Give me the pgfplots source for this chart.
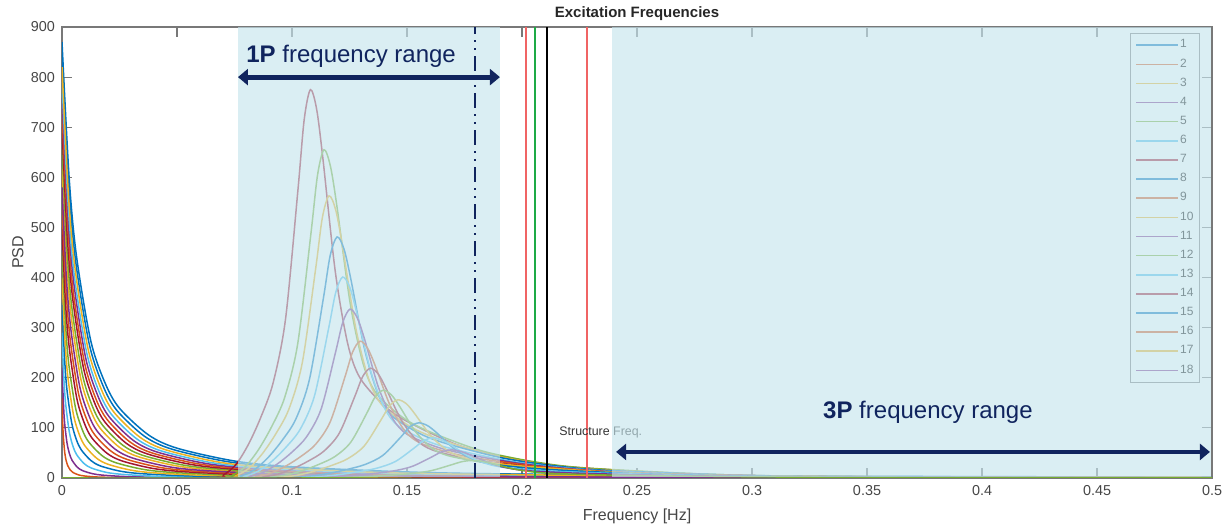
\documentclass[border=0pt]{standalone}
\usepackage{fontspec}
\setmainfont{Liberation Sans}
\usepackage{pgfplots}
\pgfplotsset{compat=1.18}
\usetikzlibrary{arrows.meta}

% MATLAB default line colours
\definecolor{c1}{RGB}{0,114,189}
\definecolor{c2}{RGB}{217,83,25}
\definecolor{c3}{RGB}{237,177,32}
\definecolor{c4}{RGB}{126,47,142}
\definecolor{c5}{RGB}{119,172,48}
\definecolor{c6}{RGB}{77,190,238}
\definecolor{c7}{RGB}{162,20,47}
\definecolor{bandcol}{RGB}{198,229,237}
\definecolor{navy}{RGB}{16,36,94}
\definecolor{axgray}{RGB}{120,120,120}
\definecolor{lblgray}{RGB}{70,70,70}
\definecolor{vred}{RGB}{240,100,100}
\definecolor{vgreen}{RGB}{30,170,70}

\begin{document}
\begin{tikzpicture}
\begin{axis}[
    name=ax,
    set layers,
    scale only axis,
    width=575pt, height=225.5pt,
    xmin=0, xmax=0.5, ymin=0, ymax=900,
    xtick={0,0.05,0.1,0.15,0.2,0.25,0.3,0.35,0.4,0.45,0.5},
    xticklabels={0,0.05,0.1,0.15,0.2,0.25,0.3,0.35,0.4,0.45,0.5},
    ytick={0,100,200,300,400,500,600,700,800,900},
    tick align=inside, tick pos=both,
    major tick length=5pt,
    axis line style={axgray, line width=0.6pt},
    every tick/.style={axgray, line width=0.6pt},
    tick label style={font=\fontsize{7.2}{8}\selectfont, text=lblgray},
    /pgf/number format/assume math mode=true,
    xlabel={Frequency [Hz]},
    xlabel style={at={(axis description cs:0.5,-0.0843)}, anchor=center, font=\fontsize{8}{9}\selectfont, text=lblgray},
    ylabel={PSD},
    ylabel style={at={(axis description cs:-0.0383,0.5)}, anchor=center, font=\fontsize{8}{9}\selectfont, text=lblgray},
    legend style={at={(0.9896,0.9867)}, anchor=north east, draw=axgray, fill=white,
        font=\fontsize{6}{7}\selectfont, text=black, row sep=2.7pt, inner sep=2.5pt,
        nodes={inner sep=0.6pt}},
    legend cell align=left,
    legend image code/.code={\draw[#1] (0pt,0pt) -- (21pt,0pt);},
    curve/.style={line width=0.75pt, smooth},
]

% ---- decaying spectra (series 1-18)
\addplot[curve,c1] coordinates {(0,870) (0.0031,599.4) (0.0063,442.8) (0.0125,274.1) (0.0188,188.8) (0.025,139.2) (0.0375,86.3) (0.05,59.5) (0.075,33.9) (0.1,22.4) (0.15,12.1) (0.2,7.7) (0.3125,3.8) (0.5,1.8)};
\addlegendentry{1}
\addplot[curve,c2] coordinates {(0,160) (0.0003,110.2) (0.0006,81.4) (0.0012,50.4) (0.0018,34.7) (0.0024,25.6) (0.0036,15.9) (0.0048,10.9) (0.0072,6.2) (0.0096,4.1) (0.0144,2.2) (0.0192,1.4) (0.03,0.7) (0.048,0.3) (0.072,0.2) (0.12,0.1) (0.192,0.0) (0.3,0.0) (0.504,0.0)};
\addlegendentry{2}
\addplot[curve,c3] coordinates {(0,620) (0.0021,427.2) (0.0042,315.6) (0.0083,195.3) (0.0125,134.5) (0.0166,99.2) (0.0249,61.5) (0.0332,42.4) (0.0498,24.2) (0.0664,15.9) (0.0996,8.6) (0.1328,5.5) (0.2075,2.7) (0.332,1.3) (0.498,0.7) (0.83,0.3)};
\addlegendentry{3}
\addplot[curve,c4] coordinates {(0,220) (0.0006,151.6) (0.0011,112.0) (0.0022,69.3) (0.0033,47.7) (0.0044,35.2) (0.0066,21.8) (0.0088,15.0) (0.0132,8.6) (0.0176,5.7) (0.0264,3.1) (0.0352,2.0) (0.055,1.0) (0.088,0.5) (0.132,0.2) (0.22,0.1) (0.352,0.0) (0.55,0.0)};
\addlegendentry{4}
\addplot[curve,c5] coordinates {(0,660) (0.0022,454.7) (0.0044,335.9) (0.0088,207.9) (0.0132,143.2) (0.0176,105.6) (0.0264,65.5) (0.0352,45.1) (0.0528,25.7) (0.0704,17.0) (0.1056,9.2) (0.1408,5.9) (0.22,2.9) (0.352,1.4) (0.528,0.7)};
\addlegendentry{5}
\addplot[curve,c6] coordinates {(0,290) (0.0008,199.8) (0.0016,147.6) (0.0032,91.4) (0.0048,62.9) (0.0064,46.4) (0.0096,28.8) (0.0128,19.8) (0.0192,11.3) (0.0256,7.5) (0.0384,4.0) (0.0512,2.6) (0.08,1.3) (0.128,0.6) (0.192,0.3) (0.32,0.1) (0.512,0.1)};
\addlegendentry{6}
\addplot[curve,c7] coordinates {(0,700) (0.0023,482.3) (0.0047,356.3) (0.0093,220.5) (0.014,151.9) (0.0186,112.0) (0.0279,69.4) (0.0372,47.9) (0.0558,27.3) (0.0744,18.0) (0.1116,9.7) (0.1488,6.2) (0.2325,3.1) (0.372,1.4) (0.558,0.7)};
\addlegendentry{7}
\addplot[curve,c1] coordinates {(0,350) (0.0011,241.2) (0.0021,178.2) (0.0042,110.3) (0.0063,76.0) (0.0084,56.0) (0.0126,34.7) (0.0168,23.9) (0.0252,13.7) (0.0336,9.0) (0.0504,4.9) (0.0672,3.1) (0.105,1.5) (0.168,0.7) (0.252,0.4) (0.42,0.2) (0.672,0.1)};
\addlegendentry{8}
\addplot[curve,c2] coordinates {(0,730) (0.0025,503.0) (0.0049,371.6) (0.0098,230.0) (0.0147,158.4) (0.0196,116.8) (0.0294,72.4) (0.0392,49.9) (0.0588,28.5) (0.0784,18.8) (0.1176,10.1) (0.1568,6.5) (0.245,3.2) (0.392,1.5) (0.588,0.8)};
\addlegendentry{9}
\addplot[curve,c3] coordinates {(0,400) (0.0013,275.6) (0.0025,203.6) (0.005,126.0) (0.0075,86.8) (0.01,64.0) (0.015,39.7) (0.02,27.4) (0.03,15.6) (0.04,10.3) (0.06,5.6) (0.08,3.6) (0.125,1.8) (0.2,0.8) (0.3,0.4) (0.5,0.2)};
\addlegendentry{10}
\addplot[curve,c4] coordinates {(0,760) (0.0026,523.6) (0.0052,386.8) (0.0103,239.4) (0.0155,164.9) (0.0206,121.6) (0.0309,75.4) (0.0412,52.0) (0.0618,29.6) (0.0824,19.5) (0.1236,10.6) (0.1648,6.8) (0.2575,3.3) (0.412,1.6) (0.618,0.8)};
\addlegendentry{11}
\addplot[curve,c5] coordinates {(0,450) (0.0015,310.1) (0.0029,229.1) (0.0058,141.8) (0.0087,97.7) (0.0116,72.0) (0.0174,44.6) (0.0232,30.8) (0.0348,17.6) (0.0464,11.6) (0.0696,6.3) (0.0928,4.0) (0.145,2.0) (0.232,0.9) (0.348,0.5) (0.58,0.2)};
\addlegendentry{12}
\addplot[curve,c6] coordinates {(0,790) (0.0027,544.3) (0.0054,402.1) (0.0108,248.9) (0.0162,171.4) (0.0216,126.4) (0.0324,78.4) (0.0432,54.0) (0.0648,30.8) (0.0864,20.3) (0.1296,11.0) (0.1728,7.0) (0.27,3.5) (0.432,1.6) (0.648,0.8)};
\addlegendentry{13}
\addplot[curve,c7] coordinates {(0,500) (0.0016,344.5) (0.0033,254.5) (0.0065,157.5) (0.0098,108.5) (0.013,80.0) (0.0195,49.6) (0.026,34.2) (0.039,19.5) (0.052,12.9) (0.078,7.0) (0.104,4.5) (0.1625,2.2) (0.26,1.0) (0.39,0.5) (0.65,0.2)};
\addlegendentry{14}
\addplot[curve,c1] coordinates {(0,845) (0.003,582.2) (0.006,430.1) (0.0119,266.2) (0.0179,183.4) (0.0238,135.2) (0.0357,83.8) (0.0476,57.8) (0.0714,33.0) (0.0952,21.7) (0.1428,11.7) (0.1904,7.5) (0.2975,3.7) (0.476,1.7) (0.714,0.9)};
\addlegendentry{15}
\addplot[curve,c2] coordinates {(0,540) (0.0018,372.1) (0.0036,274.9) (0.0071,170.1) (0.0107,117.2) (0.0142,86.4) (0.0213,53.6) (0.0284,36.9) (0.0426,21.1) (0.0568,13.9) (0.0852,7.5) (0.1136,4.8) (0.1775,2.4) (0.284,1.1) (0.426,0.6) (0.71,0.2)};
\addlegendentry{16}
\addplot[curve,c3] coordinates {(0,820) (0.0028,565.0) (0.0057,417.4) (0.0113,258.3) (0.017,177.9) (0.0226,131.2) (0.0339,81.3) (0.0452,56.1) (0.0678,32.0) (0.0904,21.1) (0.1356,11.4) (0.1808,7.3) (0.2825,3.6) (0.452,1.7) (0.678,0.9)};
\addlegendentry{17}
\addplot[curve,c4] coordinates {(0,580) (0.0019,399.6) (0.0039,295.2) (0.0077,182.7) (0.0116,125.9) (0.0154,92.8) (0.0231,57.5) (0.0308,39.7) (0.0462,22.6) (0.0616,14.9) (0.0924,8.1) (0.1232,5.2) (0.1925,2.5) (0.308,1.2) (0.462,0.6) (0.77,0.3)};
\addlegendentry{18}

% ---- peaked spectra
\addplot[curve,c7,forget plot] coordinates {(0,0) (0.0648,0.7) (0.0702,6.4) (0.0756,26.7) (0.081,66.6) (0.0864,120.7) (0.0918,190.0) (0.0972,317.6) (0.1026,575.7) (0.1053,715.1) (0.108,775) (0.1107,736.3) (0.1134,638.9) (0.1188,412.6) (0.1242,268.5) (0.1296,199.5) (0.1404,143.1) (0.1512,110.1) (0.1728,64.6) (0.1944,38.5) (0.216,23.7) (0.27,8.1) (0.324,3.3) (0.432,0.8) (0.54,0.2)};
\addplot[curve,c5,forget plot] coordinates {(0,0) (0.0683,0.6) (0.074,5.4) (0.0797,22.6) (0.0854,56.3) (0.0911,102.0) (0.0968,160.5) (0.1025,268.4) (0.1082,486.5) (0.1111,604.4) (0.1139,655) (0.1167,622.3) (0.1196,540.0) (0.1253,348.7) (0.131,227.0) (0.1367,168.6) (0.1481,121.0) (0.1595,93.0) (0.1822,54.6) (0.205,32.6) (0.2278,20.0) (0.2848,6.9) (0.3417,2.8) (0.4556,0.7) (0.5695,0.2)};
\addplot[curve,c3,forget plot] coordinates {(0,0) (0.0697,0.5) (0.0755,4.7) (0.0813,19.4) (0.0871,48.4) (0.0929,87.7) (0.0987,138.0) (0.1045,230.7) (0.1103,418.2) (0.1132,519.5) (0.1161,563) (0.119,534.9) (0.1219,464.1) (0.1277,299.7) (0.1335,195.1) (0.1393,144.9) (0.1509,104.0) (0.1625,79.9) (0.1858,47.0) (0.209,28.0) (0.2322,17.2) (0.2903,5.9) (0.3483,2.4) (0.4644,0.6) (0.5805,0.2)};
\addplot[curve,c1,forget plot] coordinates {(0,0) (0.0718,0.4) (0.0777,4.0) (0.0837,16.6) (0.0897,41.3) (0.0957,74.9) (0.1017,117.9) (0.1076,197.1) (0.1136,357.3) (0.1166,443.8) (0.1196,481) (0.1226,457.0) (0.1256,396.5) (0.1316,256.1) (0.1375,166.7) (0.1435,123.8) (0.1555,88.8) (0.1674,68.3) (0.1914,40.1) (0.2153,23.9) (0.2392,14.7) (0.299,5.1) (0.3588,2.1) (0.4784,0.5) (0.598,0.1)};
\addplot[curve,c6,forget plot] coordinates {(0,0) (0.0732,0.4) (0.0793,3.3) (0.0854,13.8) (0.0915,34.4) (0.0976,62.4) (0.1037,98.3) (0.1098,164.3) (0.1159,297.9) (0.119,370.0) (0.122,401) (0.1251,381.0) (0.1281,330.6) (0.1342,213.5) (0.1403,138.9) (0.1464,103.2) (0.1586,74.1) (0.1708,56.9) (0.1952,33.4) (0.2196,19.9) (0.244,12.3) (0.305,4.2) (0.366,1.7) (0.488,0.4) (0.61,0.1)};
\addplot[curve,c4,forget plot] coordinates {(0,0) (0.0751,0.3) (0.0814,2.8) (0.0876,11.6) (0.0939,28.9) (0.1002,52.5) (0.1064,82.6) (0.1127,138.1) (0.1189,250.3) (0.1221,310.9) (0.1252,337) (0.1283,320.2) (0.1315,277.8) (0.1377,179.4) (0.144,116.8) (0.1502,86.7) (0.1628,62.2) (0.1753,47.9) (0.2003,28.1) (0.2254,16.7) (0.2504,10.3) (0.313,3.5) (0.3756,1.4) (0.5008,0.3)};
\addplot[curve,c2,forget plot] coordinates {(0,0) (0.0778,0.2) (0.0842,2.3) (0.0907,9.4) (0.0972,23.5) (0.1037,42.5) (0.1102,66.9) (0.1166,111.9) (0.1231,202.8) (0.1264,251.9) (0.1296,273) (0.1328,259.4) (0.1361,225.1) (0.1426,145.3) (0.149,94.6) (0.1555,70.3) (0.1685,50.4) (0.1814,38.8) (0.2074,22.8) (0.2333,13.6) (0.2592,8.4) (0.324,2.9) (0.3888,1.2) (0.5184,0.3)};
\addplot[curve,c7,forget plot] coordinates {(0,0) (0.0804,0.2) (0.0871,1.8) (0.0938,7.6) (0.1005,18.8) (0.1072,34.1) (0.1139,53.7) (0.1206,89.7) (0.1273,162.7) (0.1307,202.1) (0.134,219) (0.1374,208.1) (0.1407,180.5) (0.1474,116.6) (0.1541,75.9) (0.1608,56.4) (0.1742,40.4) (0.1876,31.1) (0.2144,18.3) (0.2412,10.9) (0.268,6.7) (0.335,2.3) (0.402,0.9) (0.536,0.2)};
\addplot[curve,c5,forget plot] coordinates {(0,0) (0.0838,0.2) (0.0907,1.5) (0.0977,6.0) (0.1047,15.0) (0.1117,27.2) (0.1187,42.9) (0.1256,71.7) (0.1326,130.0) (0.1361,161.5) (0.1396,175) (0.1431,166.3) (0.1466,144.3) (0.1536,93.2) (0.1605,60.6) (0.1675,45.0) (0.1815,32.3) (0.1954,24.9) (0.2234,14.6) (0.2513,8.7) (0.2792,5.4) (0.349,1.8) (0.4188,0.8) (0.5584,0.2)};
\addplot[curve,c3,forget plot] coordinates {(0,0) (0.0876,0.1) (0.0949,1.3) (0.1022,5.4) (0.1095,13.4) (0.1168,24.3) (0.1241,38.2) (0.1314,63.9) (0.1387,115.9) (0.1424,143.9) (0.146,156) (0.1497,148.2) (0.1533,128.6) (0.1606,83.1) (0.1679,54.1) (0.1752,40.2) (0.1898,28.8) (0.2044,22.2) (0.2336,13.0) (0.2628,7.8) (0.292,4.8) (0.365,1.6) (0.438,0.7) (0.584,0.2)};
\addplot[curve,c1,forget plot] coordinates {(0,0) (0.093,0.1) (0.1008,0.9) (0.1085,3.8) (0.1163,9.4) (0.124,17.1) (0.1318,27.0) (0.1395,45.1) (0.1473,81.7) (0.1511,101.5) (0.155,110) (0.1589,104.5) (0.1628,90.7) (0.1705,58.6) (0.1783,38.1) (0.186,28.3) (0.2015,20.3) (0.217,15.6) (0.248,9.2) (0.279,5.5) (0.31,3.4) (0.3875,1.2) (0.465,0.5) (0.62,0.1)};
\addplot[curve,c6,forget plot] coordinates {(0,0) (0.0966,0.1) (0.1047,0.7) (0.1127,2.8) (0.1208,6.9) (0.1288,12.5) (0.1369,19.6) (0.1449,32.8) (0.153,59.4) (0.157,73.8) (0.161,80) (0.165,76.0) (0.1691,66.0) (0.1771,42.6) (0.1852,27.7) (0.1932,20.6) (0.2093,14.8) (0.2254,11.4) (0.2576,6.7) (0.2898,4.0) (0.322,2.4) (0.4025,0.8) (0.483,0.3) (0.644,0.1)};
\addplot[curve,c4,forget plot] coordinates {(0,0) (0.1014,0.0) (0.1099,0.5) (0.1183,1.9) (0.1268,4.8) (0.1352,8.7) (0.1437,13.7) (0.1521,22.9) (0.1606,41.6) (0.1648,51.7) (0.169,56) (0.1732,53.2) (0.1775,46.2) (0.1859,29.8) (0.1944,19.4) (0.2028,14.4) (0.2197,10.3) (0.2366,8.0) (0.2704,4.7) (0.3042,2.8) (0.338,1.7) (0.4225,0.6) (0.507,0.2)};
\addplot[curve,c5,forget plot] coordinates {(0,0) (0.1068,0.0) (0.1246,1.2) (0.1335,3.0) (0.1424,5.4) (0.1513,8.6) (0.1602,14.3) (0.1691,26.0) (0.1736,32.3) (0.178,35) (0.1825,33.3) (0.1869,28.9) (0.1958,18.6) (0.2047,12.1) (0.2136,9.0) (0.2314,6.5) (0.2492,5.0) (0.2848,2.9) (0.3204,1.7) (0.356,1.1) (0.445,0.4) (0.534,0.2)};

% ---- structure frequency lines
\addplot[vred, line width=0.8pt, forget plot] coordinates {(0.2017,0) (0.2017,900)};
\addplot[vgreen, line width=1pt, forget plot] coordinates {(0.2057,0) (0.2057,900)};
\addplot[black, line width=1.4pt, forget plot] coordinates {(0.2109,0) (0.2109,900)};
\addplot[vred, line width=0.8pt, forget plot] coordinates {(0.2283,0) (0.2283,900)};
\node[anchor=west, inner sep=0pt, font=\fontsize{6.2}{7}\selectfont, text=black!80] at (axis cs:0.2161,90) {Structure Freq.};

\begin{pgfonlayer}{axis foreground}
\fill[bandcol, fill opacity=0.65] (axis cs:0.0765,1) rectangle (axis cs:0.1904,899);
\fill[bandcol, fill opacity=0.65] (axis cs:0.239,1) rectangle (axis cs:0.4996,899);
\draw[navy, line width=1.4pt, dash pattern=on 7.5pt off 3pt on 1pt off 3pt on 1pt off 3pt] (axis cs:0.1796,0) -- (axis cs:0.1796,900);
\draw[navy, line width=2.4pt, {Triangle[length=5pt,width=8pt]}-{Triangle[length=5pt,width=8pt]}] (axis cs:0.0765,800) -- (axis cs:0.1904,800);
\draw[navy, line width=2.4pt, {Triangle[length=5pt,width=8pt]}-{Triangle[length=5pt,width=8pt]}] (axis cs:0.2409,52) -- (axis cs:0.4991,52);
\node[navy, font=\fontsize{12}{14}\selectfont] at (axis cs:0.1257,842) {\textbf{1P} frequency range};
\node[navy, font=\fontsize{12}{14}\selectfont] at (axis cs:0.3765,132) {\textbf{3P} frequency range};
\end{pgfonlayer}
\end{axis}
\node[font=\bfseries\fontsize{7.5}{9}\selectfont, text=black!85] at ([yshift=6.7pt]ax.north) {Excitation Frequencies};
\pgfresetboundingbox
\path[use as bounding box] ([xshift=-31pt,yshift=-24.5pt]ax.south west) rectangle ([xshift=6pt,yshift=13.5pt]ax.north east);
\end{tikzpicture}
\end{document}
